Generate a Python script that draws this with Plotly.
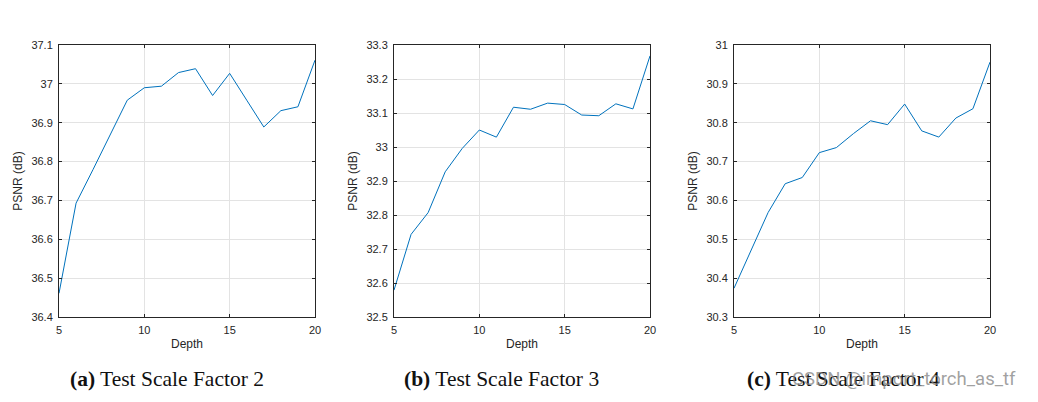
import plotly.graph_objects as go

depth = list(range(5, 21))
psnr_x2 = [36.461, 36.693, 36.780, 36.870, 36.958, 36.990, 36.994, 37.029, 37.039, 36.970,
           37.027, 36.958, 36.889, 36.931, 36.941, 37.061]
psnr_x3 = [32.579, 32.743, 32.807, 32.927, 32.996, 33.050, 33.029, 33.117, 33.111, 33.129,
           33.125, 33.094, 33.092, 33.127, 33.112, 33.268]
psnr_x4 = [30.374, 30.472, 30.569, 30.643, 30.659, 30.723, 30.736, 30.772, 30.805, 30.795,
           30.848, 30.779, 30.763, 30.812, 30.836, 30.956]
y_ranges = [[36.4, 37.1], [32.5, 33.3], [30.3, 31.0]]
captions = ["<b>(a)</b> Test Scale Factor 2", "<b>(b)</b> Test Scale Factor 3",
            "<b>(c)</b> Test Scale Factor 4"]

W, H = 1038, 402
x_domains = [[59 / W, 315 / W], [394 / W, 650 / W], [734 / W, 990 / W]]
y_domain = [1 - 317 / H, 1 - 45 / H]
caption_x = [167 / W, 501 / W, 843 / W]

fig = go.Figure()
series = [psnr_x2, psnr_x3, psnr_x4]
fam = "Liberation Sans, Arial, sans-serif"
axis_font = dict(family=fam, size=11, color="#262626")
title_font = dict(family=fam, size=12, color="#262626")
for i, vals in enumerate(series):
    sfx = "" if i == 0 else str(i + 1)
    fig.add_trace(go.Scatter(x=depth, y=vals, mode="lines",
                             line=dict(color="#0072BD", width=1),
                             xaxis="x" + sfx, yaxis="y" + sfx, showlegend=False))
    common = dict(showline=True, linecolor="#262626", linewidth=1, mirror="ticks",
                  ticks="inside", ticklen=3, tickcolor="#262626", showgrid=True,
                  gridcolor="#e3e3e3", gridwidth=1, zeroline=False, tickfont=axis_font,
                  automargin=False)
    fig.update_layout(**{
        "xaxis" + sfx: dict(domain=x_domains[i], range=[5, 20], dtick=5, tick0=5,
                            anchor="y" + sfx, ticklabelstandoff=3,
                            title=dict(text="Depth", font=title_font, standoff=4),
                            **common),
        "yaxis" + sfx: dict(domain=y_domain, range=y_ranges[i], dtick=0.1, tick0=y_ranges[i][0],
                            anchor="x" + sfx, ticklabelstandoff=3,
                            title=dict(text="PSNR (dB)", font=title_font, standoff=6),
                            **common),
    })
    fig.add_annotation(text=captions[i], xref="paper", yref="paper", x=caption_x[i],
                       y=1 - 379 / H, xanchor="center", yanchor="middle", showarrow=False,
                       font=dict(family="Liberation Serif, Times New Roman, serif", size=21.5,
                                 color="#111111"))

fig.add_annotation(text="CSDN @import_torch_as_tf", xref="paper", yref="paper", x=790 / W,
                   y=1 - 379 / H, xanchor="left", yanchor="middle", showarrow=False,
                   font=dict(family="Roboto, Liberation Sans, sans-serif", size=18.5,
                             color="rgba(130,130,130,0.75)"))

fig.update_layout(width=W, height=H, margin=dict(l=0, r=0, t=0, b=0, autoexpand=False),
                  paper_bgcolor="white", plot_bgcolor="white")
fig.write_html("out.html")
